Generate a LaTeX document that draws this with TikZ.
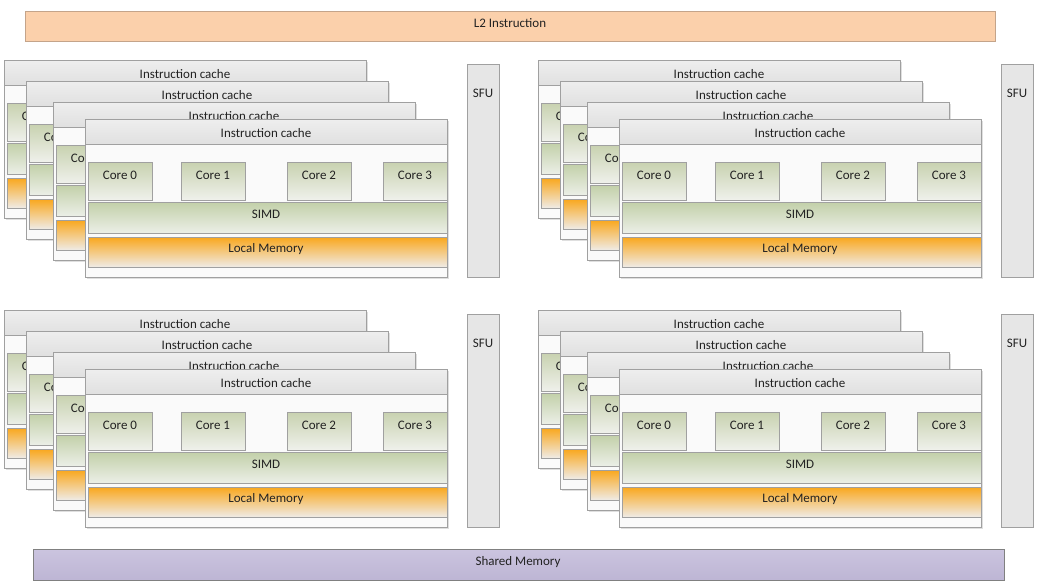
\documentclass[tikz,border=0pt]{standalone}
\usepackage{fontspec}
\setmainfont{Carlito}
\usetikzlibrary{shadows}
\definecolor{bordergray}{HTML}{A0A0A0}
\definecolor{cardfill}{HTML}{FAFAFA}
\definecolor{hdrtop}{HTML}{EEEEEE}
\definecolor{hdrbot}{HTML}{E0E0E0}
\definecolor{coretop}{HTML}{C8D2B0}
\definecolor{corebot}{HTML}{F0F1EC}
\definecolor{simdtop}{HTML}{C3D0AA}
\definecolor{simdbot}{HTML}{ECEFE8}
\definecolor{lmtop}{HTML}{F9A820}
\definecolor{lmbot}{HTML}{EFECE9}
\definecolor{sfufill}{HTML}{E6E6E6}
\definecolor{ltwofill}{HTML}{FBD0AB}
\definecolor{ltwoborder}{HTML}{C4A48A}
\definecolor{shtop}{HTML}{CBC4DF}
\definecolor{shbot}{HTML}{BDB5D4}
\definecolor{textcol}{HTML}{222222}
\tikzset{
  box/.style={draw=bordergray, line width=0.8pt, inner sep=0pt, anchor=north west},
  cardbox/.style={box, fill=cardfill, minimum width=362pt, minimum height=158pt,
    drop shadow={shadow xshift=1.5pt, shadow yshift=-1.5pt, opacity=0.25}},
  hdrbox/.style={box, top color=hdrtop, bottom color=hdrbot, minimum width=362pt, minimum height=25pt},
  corebox/.style={box, top color=coretop, bottom color=corebot, minimum width=64pt, minimum height=38pt},
  simdbox/.style={box, top color=simdtop, bottom color=simdbot, minimum width=359pt, minimum height=31pt},
  lmbox/.style={box, top color=lmtop, bottom color=lmbot, minimum width=359pt, minimum height=30pt},
  sfubox/.style={box, fill=sfufill, minimum width=32pt, minimum height=213pt},
  lbl/.style={font=\fontsize{13}{15}\selectfont, inner sep=0pt, text=textcol},
  pics/card/.style={code={
    \node[cardbox] (-box) at (0,0) {};
    \node[hdrbox] (-hdr) at (0,0) {};
    \node[lbl] (-hdrt) at (181,14) {Instruction cache};
    \foreach \i/\cx in {0/3,1/96,2/202,3/298} {
      \node[corebox] (-c\i) at (\cx,43) {};
      \node[lbl] (-ct\i) at (\cx+32,56) {Core \i};
    }
    \node[simdbox] (-simd) at (3,83) {};
    \node[lbl] (-simdt) at (181,95) {SIMD};
    \node[lmbox] (-lm) at (3,118) {};
    \node[lbl] (-lmt) at (181,130) {Local Memory};
  }}
}
\begin{document}
\begin{tikzpicture}[x=1pt,y=-1pt]
\useasboundingbox (0,0) rectangle (1038,584);
\fill[white] (0,0) rectangle (1038,584);
\node[box, draw=ltwoborder, fill=ltwofill, minimum width=970pt, minimum height=30pt] (l2) at (25,11) {};
\node[lbl] (l2t) at (510,23) {L2 Instruction};
\foreach \qx/\qy/\q in {0/0/a,534/0/b,0/250/c,534/250/d} {
  \pic (\q1) at (\qx+4,\qy+60) {card};
  \pic (\q2) at (\qx+26,\qy+81) {card};
  \pic (\q3) at (\qx+53,\qy+102) {card};
  \pic (\q4) at (\qx+85,\qy+119) {card};
  \node[sfubox] (sfu\q) at (\qx+467,\qy+64) {};
  \node[lbl] (sfut\q) at (\qx+483,\qy+93) {SFU};
}
\node[box, draw=gray, top color=shtop, bottom color=shbot, minimum width=971pt, minimum height=31pt] (sh) at (33,549) {};
\node[lbl] (sht) at (518,562) {Shared Memory};
\end{tikzpicture}
\end{document}
